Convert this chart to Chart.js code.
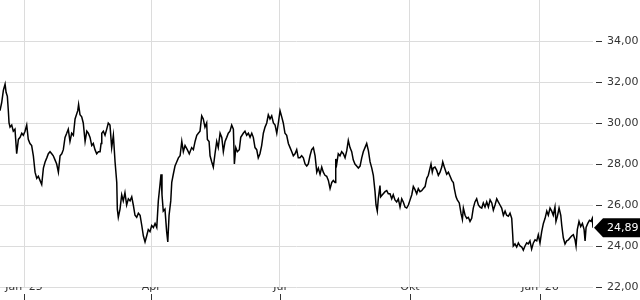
<!DOCTYPE html>
<html>
<head>
<meta charset="utf-8">
<script src="https://cdn.jsdelivr.net/npm/chart.js@4/dist/chart.umd.min.js"></script>
<style>
  html, body { margin: 0; padding: 0; background: #fff; }
  #wrap { width: 640px; height: 300px; }
</style>
</head>
<body>
<div id="wrap"><canvas id="kurs" width="640" height="300"></canvas></div>
<script>
// days since 1 Jan 2025, closing-ish prices
const days = [
  -17.0, -15.8, -14.6, -13.4, -12.7, -11.8, -11.1, -10.6, -9.9, -8.7, -7.6, -6.4, -5.7, -5.2, -4.0, -2.8, -1.6, -0.5,
  0.7, 1.9, 3.0, 4.2, 5.4, 6.6, 7.8, 9.0, 10.1, 11.3, 12.5, 13.7, 14.9, 16.1, 17.2, 18.4, 19.6, 20.7, 21.9, 23.1, 24.3,
  25.5, 26.7, 27.8, 29.0, 30.2, 31.3, 32.5, 33.7, 34.9, 36.1, 38.0, 38.6, 39.6, 40.8, 41.9, 43.2, 44.4, 45.5, 46.7, 47.9,
  49.0, 50.2, 51.4, 52.6, 53.8,
  54.5, 55.0, 56.1, 57.3, 58.5, 59.6, 60.8, 62.0, 63.2, 64.4, 65.6, 66.0, 66.7, 67.9, 69.1, 70.2, 71.4, 72.6, 73.8, 75.0,
  76.2, 77.3, 78.5, 79.7, 80.9, 82.1, 83.3, 84.4, 85.6, 86.8, 87.9, 89.1, 90.3, 91.5, 92.7, 93.9, 95.0, 96.2, 96.9, 97.6,
  98.5, 99.7, 100.9, 101.7, 102.6, 103.8, 104.5, 105.6, 106.8, 108.0, 109.2, 110.4, 111.6, 112.7, 113.9, 115.5, 116.9,
  118.6, 119.8, 121.0, 122.2, 123.3, 124.5,
  125.7, 126.8, 128.0, 129.2, 129.7, 130.9, 131.6, 132.8, 133.9, 135.1, 136.3, 137.4, 138.7, 139.9, 141.0, 142.2, 143.4,
  144.5, 145.7, 146.9, 148.1, 148.8, 149.8, 150.9, 152.3, 153.3, 155.1, 156.3, 157.5, 158.7, 159.9, 161.1, 162.2, 163.4,
  164.6, 165.7, 166.9, 168.1, 169.3, 170.5, 171.7, 172.8, 174.0, 175.2, 176.4, 177.6, 178.8, 179.9, 181.1, 182.3, 183.4,
  184.6, 185.8, 187.0, 188.2, 189.4, 190.5, 191.7, 192.9, 194.0, 195.2,
  196.4, 197.6, 198.8, 200.0, 201.1, 202.3, 203.5, 204.7, 205.9, 207.1, 208.2, 209.4, 210.6, 211.7, 212.9, 214.1, 215.3,
  216.5, 217.7, 218.8, 220.0, 220.5, 221.2, 222.3, 223.5, 224.7, 225.9, 227.1, 228.3, 229.4, 230.6, 231.8, 232.9, 234.1,
  235.3, 236.5, 237.7, 238.9, 240.0, 241.2, 242.4, 243.6, 244.8, 246.0, 247.1, 248.3, 249.0, 249.9, 250.6, 251.8, 252.3,
  253.5, 255.4, 256.6, 257.7, 258.9, 260.1, 261.2, 262.4, 263.6, 264.8, 266.0,
  267.2, 268.3, 269.5, 270.7, 271.9, 273.1, 274.3, 275.4, 276.6, 277.8, 278.9, 280.1, 281.3, 282.5, 283.7, 284.9, 286.0,
  287.2, 287.9, 288.8, 289.5, 290.7, 291.9, 293.1, 294.3, 295.5, 296.2, 297.3, 299.0, 300.2, 301.4, 302.6, 303.7, 304.4,
  305.6, 306.5, 307.9, 309.1, 310.1, 310.8, 312.0, 313.2, 314.3, 315.5, 316.7, 317.8, 319.0, 320.2, 321.4, 322.6, 323.8,
  324.9, 326.1, 327.3, 328.5, 329.7, 330.9, 332.0, 333.2, 334.4, 335.5, 336.7,
  337.9, 339.1, 340.3, 341.4, 342.6, 343.8, 345.0, 345.7, 346.1, 347.3, 348.5, 349.7, 350.9, 352.1, 353.2, 354.4, 355.6,
  356.7, 357.9, 359.1, 360.3, 361.5, 362.7, 363.8, 365.0, 366.2, 367.4, 368.6, 369.8, 370.9, 372.1, 373.3, 374.4, 375.6,
  376.3, 377.3, 378.5, 379.7, 380.4, 381.5, 382.7, 383.9, 385.1, 386.3, 387.5, 388.6, 389.8, 390.5, 391.4, 392.6, 393.8,
  395.0, 396.2, 396.9, 397.6, 398.8, 400.0, 401.1, 402.0, 402.5
];
const prices = [
  30.6, 31.0, 31.6, 31.9, 31.5, 31.3, 30.6, 30.0, 29.8, 29.9, 29.6, 29.7, 29.0, 28.5, 29.2, 29.3, 29.5, 29.4,
  29.6, 29.9, 29.2, 29.0, 28.9, 28.4, 27.6, 27.3, 27.4, 27.2, 27.0, 27.8, 28.1, 28.3, 28.5, 28.6, 28.5, 28.4, 28.2, 28.0, 27.6,
  28.4, 28.5, 28.7, 29.3, 29.5, 29.7, 29.1, 29.5, 29.4, 30.2, 30.6, 30.9, 30.4, 30.3, 30.0, 29.1, 29.6, 29.5, 29.3, 28.9,
  29.0, 28.7, 28.5, 28.6, 28.6,
  29.0, 29.5, 29.6, 29.4, 29.7, 30.0, 29.9, 28.8, 29.4, 28.1, 27.1, 25.8, 25.4, 25.8, 26.5, 26.2, 26.6, 26.0, 26.3, 26.2,
  26.4, 26.0, 25.5, 25.4, 25.6, 25.5, 25.0, 24.5, 24.2, 24.5, 24.8, 24.7, 25.0, 24.9, 25.1, 24.9, 26.2, 27.0, 27.5, 26.5,
  25.7, 25.8, 24.7, 24.2, 25.5, 26.2, 27.1, 27.5, 27.9, 28.1, 28.3, 28.4, 29.1, 28.6, 28.9, 28.7, 28.5,
  28.8, 28.7, 29.1, 29.4, 29.5, 29.6,
  30.35, 30.2, 29.8, 30.0, 29.2, 29.1, 28.4, 28.1, 27.85, 28.5, 29.1, 28.8, 29.5, 29.3, 28.6, 29.1, 29.3,
  29.5, 29.6, 29.9, 29.7, 28.0, 28.8, 28.6, 28.7, 29.3, 29.5, 29.6, 29.4, 29.5, 29.3, 29.5, 29.3, 28.8,
  28.7, 28.3, 28.5, 28.9, 29.5, 29.8, 30.0, 30.4, 30.2, 30.35, 30.0, 29.9, 29.5, 30.0, 30.6, 30.3, 30.0,
  29.5, 29.4, 29.0, 28.8, 28.6, 28.4, 28.5, 28.7, 28.3, 28.3,
  28.4, 28.3, 28.0, 27.9, 28.0, 28.4, 28.7, 28.8, 28.4, 27.6, 27.8, 27.5, 27.85, 27.6, 27.45, 27.4, 27.2,
  26.8, 27.1, 27.2, 27.1, 28.25, 28.0, 28.5, 28.4, 28.6, 28.5, 28.3, 28.65, 29.15, 28.8, 28.6, 28.2, 28.0,
  27.9, 27.8, 27.9, 28.3, 28.6, 28.8, 29.0, 28.65, 28.1, 27.8, 27.45, 26.65, 26.0, 25.7, 26.3, 26.95, 26.4,
  26.5, 26.65, 26.7, 26.55, 26.55, 26.3, 26.5, 26.25, 26.15, 26.3, 25.9,
  26.3, 26.15, 25.9, 25.85, 26.0, 26.25, 26.5, 26.9, 26.75, 26.55, 26.8, 26.65, 26.7, 26.8, 26.9, 27.3, 27.45,
  27.8, 28.0, 27.6, 27.8, 27.85, 27.7, 27.45, 27.6, 27.85, 28.1, 27.85, 27.5, 27.6, 27.4, 27.2, 27.1, 26.8,
  26.4, 26.25, 26.1, 25.6, 25.3, 25.85, 25.5, 25.35, 25.4, 25.2, 25.35, 25.85, 26.15, 26.3, 26.0, 25.9, 25.85,
  26.1, 25.9, 26.15, 25.9, 26.25, 26.1, 25.75, 26.0, 26.3, 26.15, 26.0,
  25.85, 25.5, 25.7, 25.5, 25.45, 25.6, 25.35, 24.55, 24.0, 24.1, 23.95, 24.15, 24.0, 23.95, 23.8, 24.0, 24.15,
  24.1, 24.25, 23.85, 24.15, 24.3, 24.25, 24.55, 24.15, 24.7, 25.1, 25.35, 25.7, 25.5, 25.85, 25.7, 25.5, 25.9,
  25.2, 25.45, 25.85, 25.5, 25.0, 24.4, 24.1, 24.25, 24.3, 24.4, 24.5, 24.55, 24.3, 24.0, 24.8, 25.2, 24.95,
  25.1, 24.8, 24.25, 24.9, 25.1, 25.25, 25.2, 25.35, 24.89
];

const tickDays = [0, 90, 181, 273, 365];
const tickLabels = ["Jan '25", "Apr", "Jul", "Okt", "Jan '26"];
const yMin = 22;
const yMax = 36;

const fontName = "'DejaVu Sans', sans-serif";
const gridGrey = '#dcdcdc';
const textGrey = '#333';

function fmt(v) {
  return v.toFixed(2).replace('.', ',');
}

let points = days.map((d, i) => ({ x: d, y: prices[i] }));

// small dashes under the x labels
const bottomTicks = {
  id: 'bottomTicks',
  afterDraw(chart) {
    let ctx = chart.ctx;
    let xs = chart.scales.x;
    ctx.save();
    ctx.strokeStyle = textGrey;
    ctx.lineWidth = 1;
    tickDays.forEach(d => {
      let px = Math.round(xs.getPixelForValue(d)) + 0.5;
      ctx.beginPath();
      ctx.moveTo(px, 294);
      ctx.lineTo(px, 300);
      ctx.stroke();
    });
    ctx.restore();
  }
};

// black tag with the last price on the right axis
const lastTag = {
  id: 'lastTag',
  afterDraw(chart) {
    let ctx = chart.ctx;
    let last = prices[prices.length - 1];
    let yp = chart.scales.y.getPixelForValue(last);
    let left = chart.chartArea.right;
    ctx.save();
    ctx.fillStyle = '#000';
    ctx.beginPath();
    ctx.moveTo(left + 1, yp);
    ctx.lineTo(left + 10, yp - 9.5);
    ctx.lineTo(640, yp - 9.5);
    ctx.lineTo(640, yp + 9.5);
    ctx.lineTo(left + 10, yp + 9.5);
    ctx.closePath();
    ctx.fill();
    ctx.fillStyle = '#fff';
    ctx.font = '11px ' + fontName;
    ctx.textBaseline = 'middle';
    ctx.fillText(fmt(last), 607, yp + 0.5);
    ctx.restore();
  }
};

new Chart(document.getElementById('kurs'), {
  type: 'line',
  data: {
    datasets: [{
      data: points,
      borderColor: '#000',
      borderWidth: 1.5,
      pointRadius: 0,
      tension: 0,
      fill: false
    }]
  },
  options: {
    responsive: false,
    animation: false,
    parsing: false,
    layout: { padding: 0 },
    plugins: {
      legend: { display: false },
      tooltip: { enabled: false }
    },
    scales: {
      x: {
        type: 'linear',
        min: days[0],
        max: days[days.length - 1],
        afterBuildTicks(axis) {
          axis.ticks = tickDays.map(v => ({ value: v }));
        },
        afterFit(axis) {
          axis.height = 13;
          axis.paddingLeft = 0;
          axis.paddingRight = 0;
        },
        border: { display: false },
        grid: { color: gridGrey, drawTicks: false },
        ticks: {
          autoSkip: false,
          maxRotation: 0,
          padding: -6,
          color: textGrey,
          font: { family: fontName, size: 11 },
          callback: (v) => tickLabels[tickDays.indexOf(v)]
        }
      },
      y: {
        position: 'right',
        min: yMin,
        max: yMax,
        afterFit(axis) {
          axis.width = 47;
          axis.paddingTop = 0;
          axis.paddingBottom = 0;
        },
        border: { display: false },
        grid: {
          color: (c) => c.tick && c.tick.value === yMax ? 'rgba(0,0,0,0)' : gridGrey,
          tickColor: (c) => c.tick && c.tick.value === yMax ? 'rgba(0,0,0,0)' : textGrey,
          tickLength: 9,
          tickBorderDash: [0, 3, 6, 20]
        },
        ticks: {
          stepSize: 2,
          padding: 5,
          color: textGrey,
          font: { family: fontName, size: 11 },
          callback: (v) => v === yMax ? '' : fmt(v)
        }
      }
    }
  },
  plugins: [bottomTicks, lastTag]
});
</script>
</body>
</html>
